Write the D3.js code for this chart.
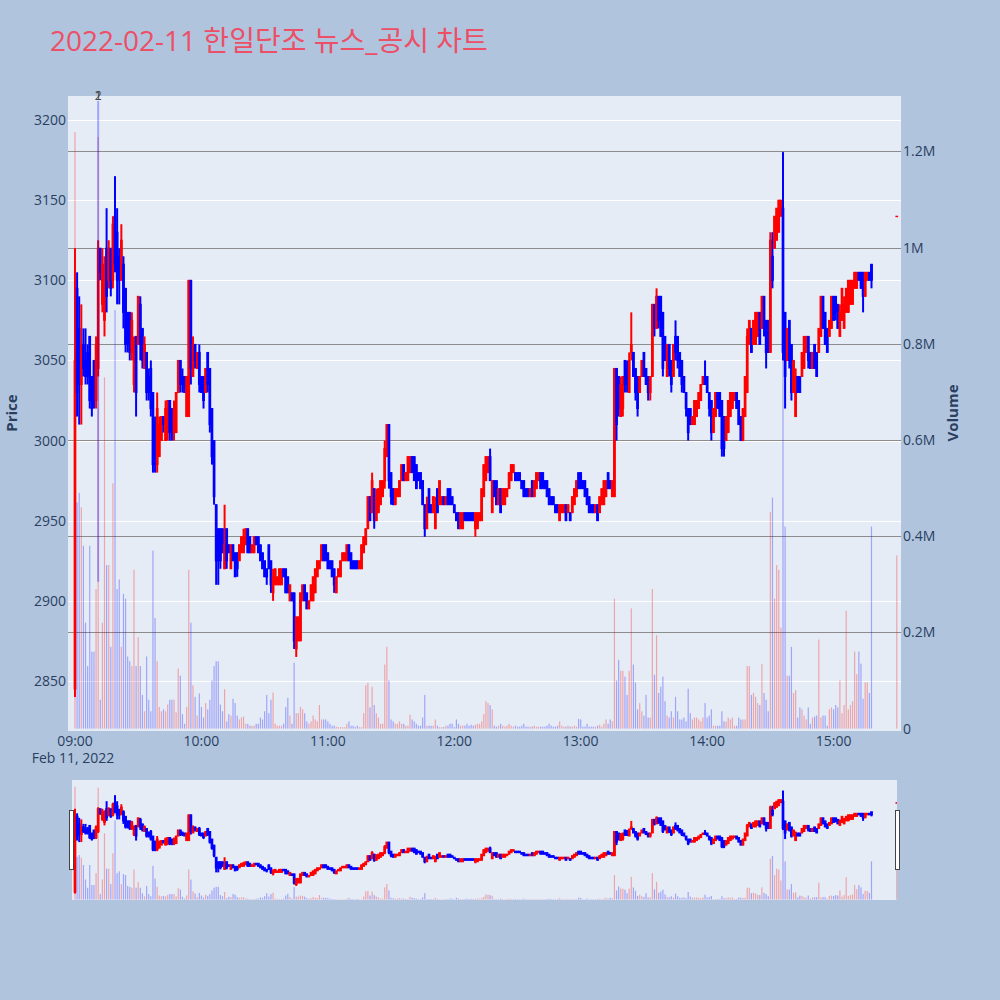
<!DOCTYPE html>
<html>
<head>
<meta charset="utf-8">
<script src="https://cdn.jsdelivr.net/npm/d3@7"></script>
<style>
  body { margin: 0; background: #b0c4de; }
  svg { display: block; }
  text { font-family: "Open Sans", "Noto Sans CJK KR", sans-serif; }
</style>
</head>
<body>
<svg id="chart" width="1000" height="1000"></svg>
<script>
// one candle per minute from 09:00, prices in KRW
const openPrice = [
  2845,3095,3070,3035,3060,3050,3055,3065,3040,3050, 3025,3045,3120,3085,3075,3120,3100,3120,3100,3140,
  3130,3115,3100,3110,3095,3080,3080,3055,3035,3065, 3060,3085,3070,3045,3055,3040,3045,3030,3010,2985,
  2990,3000,3015,3000,3005,
  3025,3020,3005,3005,3030,3050,3040,3040,3015,3015, 3100,3040,3060,3045,3055,3040,3040,3030,3055,3045,
  3020,3000,2960,2945,2945,2945,2920,2945,2935,2920, 2935,2930,2930,2925,2930,2930,2935,2945,2940,
  2930,2930,2940,2940,2935,2930,2925,2920,
  2935,2925,2905,2910,2910,2910,2910,2920,2920,2915, 2900,2905,2905,2870,2875,2875,2900,2910,2905,2895,
  2900,2900,2905,2915,2920,2925,2935,2935,2930,2925, 2925,2920,2905,2915,2915,2925,2925,2925,2935,2930,
  2925,2925,2925,2920,2920,2930,2935,2945,
  2965,2955,2970,2950,2955,2960,2965,2975,2990,3010, 2980,2970,2960,2965,2965,2975,2985,2975,2975,2980,
  2990,2990,2985,2980,2980,2975,2960,2945,2970,2960, 2955,2945,2970,2960,2960,2965,2960,2970,2970,2965,
  2960,2955,2955,2945,2945,2955,2955,
  2955,2955,2955,2945,2945,2950,2950,2965,2975,2980, 2990,2955,2975,2975,2960,2970,2960,2960,2965,2970,
  2975,2980,2980,2980,2980,2975,2975,2970,2970,2965, 2975,2965,2970,2975,2980,2980,2975,2975,2970,2965,
  2965,2960,2960,2950,2955,2955,2960,
  2955,2955,2955,2960,2965,2980,2980,2975,2975,2970, 2965,2960,2960,2955,2960,2955,2960,2960,2965,2980,
  2975,2965,2965,3045,3040,3015,3020,3050,3045,3030, 3055,3055,3045,3040,3030,3040,3055,3045,3040,3030,
  3040,3085,3070,3090,3090,3080,3065,3040,
  3060,3050,3040,3065,3065,3055,3050,3040,3030,3020, 3020,3010,3010,3015,3020,3025,3035,3040,3040,3030,
  3025,3005,3015,3030,3030,3025,3015,3000,3005,3015, 3020,3025,3030,3025,3015,3000,3015,3030,3060,3070,
  3060,3060,3065,3080,3070,3090,3075,
  3075,3055,3115,3120,3125,3130,3140,3145,3080,3050, 3075,3060,3030,3015,3040,3040,3040,3045,3055,3065,
  3055,3045,3060,3055,3055,3065,3090,3080,3070,3065, 3070,3090,3090,3085,3065,3075,3070,3080,3080,3085,
  3085,3095,3095,3105,3105,3105,3090,3100,3105,3110
];
const highPrice = [
  3120,3105,3090,3085,3070,3070,3060,3065,3040,3050, 3065,3125,3120,3120,3115,3145,3125,3120,3140,3165,
  3145,3120,3135,3115,3095,3080,3080,3080,3065,3065, 3090,3090,3070,3065,3055,3045,3050,3030,3015,3030,
  3015,3015,3015,3025,3025,
  3025,3020,3025,3030,3050,3050,3045,3040,3040,3100, 3100,3065,3060,3055,3060,3040,3040,3045,3055,3045,
  3020,3000,2960,2945,2945,2945,2960,2945,2935,2935, 2935,2930,2930,2935,2940,2945,2945,2945,2940,
  2935,2940,2940,2940,2935,2930,2925,2920,
  2935,2925,2920,2920,2915,2920,2920,2920,2920,2915, 2910,2905,2905,2890,2890,2905,2910,2910,2905,2900,
  2910,2915,2920,2925,2925,2935,2935,2935,2930,2925, 2925,2920,2915,2920,2925,2930,2930,2935,2935,2930,
  2925,2925,2925,2925,2935,2940,2945,2965,
  2965,2980,2970,2970,2970,2975,2975,3000,3010,3010, 2980,2970,2970,2970,2975,2985,2985,2980,2990,2990,
  2990,2990,2985,2980,2980,2975,2960,2965,2970,2960, 2965,2965,2970,2975,2965,2965,2965,2970,2970,2965,
  2960,2955,2955,2955,2955,2955,2955,
  2955,2955,2955,2955,2955,2955,2970,2985,2990,2990, 2995,2975,2975,2975,2970,2970,2970,2970,2970,2980,
  2985,2985,2980,2980,2980,2975,2975,2970,2970,2970, 2975,2975,2980,2980,2980,2980,2975,2975,2970,2965,
  2965,2960,2960,2960,2960,2960,2960,
  2960,2955,2965,2970,2975,2980,2980,2975,2975,2970, 2965,2960,2960,2960,2960,2965,2970,2975,2975,2980,
  2975,2975,3045,3045,3040,3040,3040,3050,3050,3055, 3080,3055,3045,3040,3040,3050,3055,3045,3040,3040,
  3085,3085,3095,3090,3090,3080,3065,3060,
  3060,3050,3060,3075,3065,3055,3050,3040,3030,3020, 3020,3015,3025,3025,3030,3035,3040,3050,3040,3030,
  3025,3020,3030,3030,3030,3025,3015,3015,3025,3030, 3030,3030,3030,3025,3015,3020,3040,3070,3075,3070,
  3075,3080,3080,3080,3090,3090,3075,
  3075,3130,3130,3140,3145,3150,3150,3180,3080,3070, 3075,3060,3050,3045,3040,3040,3055,3065,3065,3065,
  3055,3055,3060,3055,3070,3090,3090,3080,3070,3075, 3090,3090,3090,3085,3085,3095,3090,3095,3100,3100,
  3100,3105,3105,3105,3105,3105,3105,3105,3105,3110
];
const lowPrice = [
  2840,3015,3010,3010,3040,3035,3035,3020,3015,3020, 3020,3040,3100,3080,3065,3080,3095,3090,3095,3105,
  3085,3085,3100,3070,3055,3055,3050,3050,3030,3015, 3060,3050,3045,3045,3025,3025,3015,2980,2980,2980,
  2990,3000,3005,3000,3000,
  3000,3000,3000,3005,3030,3030,3030,3030,3015,3015, 3035,3040,3045,3045,3030,3030,3020,3030,3030,3005,
  2985,2960,2910,2910,2920,2930,2920,2920,2930,2920, 2925,2915,2915,2925,2930,2930,2935,2930,2930,
  2930,2930,2935,2930,2925,2920,2915,2910,
  2920,2905,2900,2910,2910,2910,2910,2915,2905,2905, 2900,2900,2870,2865,2875,2875,2900,2900,2895,2895,
  2900,2900,2905,2915,2920,2925,2925,2925,2920,2920, 2915,2905,2905,2915,2915,2925,2925,2925,2925,2920,
  2920,2920,2920,2920,2920,2930,2935,2945,
  2950,2955,2945,2950,2955,2960,2965,2970,2990,2970, 2960,2960,2960,2965,2965,2975,2975,2975,2975,2980,
  2980,2975,2970,2975,2970,2960,2940,2945,2955,2955, 2955,2945,2955,2960,2960,2960,2960,2960,2960,2960,
  2955,2950,2945,2945,2945,2950,2950,
  2950,2950,2950,2940,2945,2950,2950,2965,2975,2980, 2975,2955,2965,2960,2960,2955,2960,2960,2965,2970,
  2975,2980,2975,2975,2975,2970,2965,2965,2965,2965, 2965,2965,2970,2975,2970,2970,2970,2965,2960,2960,
  2960,2955,2955,2950,2955,2955,2950,
  2955,2950,2955,2960,2965,2970,2970,2970,2965,2960, 2955,2955,2955,2955,2950,2955,2960,2960,2965,2970,
  2970,2965,2965,3000,3015,3015,3015,3030,3030,3030, 3050,3040,3025,3015,3030,3040,3040,3035,3025,3025,
  3040,3065,3070,3070,3065,3040,3050,3040,
  3040,3030,3040,3050,3045,3040,3030,3030,3015,3000, 3010,3010,3010,3015,3020,3025,3035,3035,3030,3015,
  3000,3005,3015,3020,3015,2990,2990,3000,3005,3015, 3020,3025,3020,3010,3000,3000,3015,3030,3060,3055,
  3060,3060,3065,3060,3070,3065,3045,
  3055,3055,3095,3120,3125,3130,3140,3050,3020,3050, 3045,3025,3030,3015,3030,3030,3040,3045,3055,3045,
  3045,3045,3045,3040,3055,3065,3070,3060,3055,3065, 3070,3075,3075,3070,3065,3075,3070,3080,3080,3085,
  3085,3095,3095,3100,3095,3080,3090,3100,3100,3095
];
const closePrice = [
  3050,3030,3035,3060,3045,3040,3040,3025,3020,3025, 3060,3120,3105,3110,3110,3090,3120,3095,3135,3110,
  3100,3100,3125,3080,3060,3060,3055,3075,3060,3030, 3090,3060,3050,3060,3030,3030,3020,2985,2985,3020,
  3010,3015,3010,3020,3025,
  3005,3005,3020,3030,3050,3035,3035,3030,3040,3100, 3045,3060,3050,3055,3035,3030,3025,3045,3035,3010,
  2990,2965,2925,2925,2925,2930,2935,2925,2930,2935, 2925,2915,2920,2935,2940,2940,2945,2930,2930,
  2935,2940,2935,2930,2925,2920,2915,2915,
  2920,2910,2915,2920,2915,2920,2920,2915,2905,2905, 2910,2900,2875,2890,2890,2905,2910,2900,2895,2900,
  2910,2915,2920,2925,2925,2935,2925,2925,2920,2920, 2915,2910,2915,2920,2925,2930,2930,2935,2925,2920,
  2920,2920,2920,2925,2935,2940,2945,2965,
  2950,2975,2950,2965,2970,2975,2975,2995,3010,2975, 2965,2960,2970,2970,2975,2985,2975,2980,2990,2990,
  2980,2975,2970,2975,2970,2960,2945,2960,2955,2955, 2965,2960,2955,2975,2965,2960,2965,2960,2960,2960,
  2955,2950,2945,2955,2955,2950,2950,
  2950,2950,2950,2955,2955,2955,2970,2985,2990,2990, 2975,2975,2965,2960,2970,2955,2970,2970,2970,2980,
  2985,2985,2975,2975,2975,2970,2965,2965,2965,2970, 2965,2975,2980,2980,2970,2970,2970,2965,2960,2960,
  2960,2955,2955,2960,2960,2960,2950,
  2960,2950,2965,2970,2975,2970,2970,2970,2965,2960, 2955,2955,2955,2960,2950,2965,2970,2975,2975,2970,
  2970,2975,3045,3010,3020,3035,3040,3035,3035,3050, 3060,3040,3030,3020,3040,3050,3040,3035,3030,3040,
  3085,3070,3090,3075,3065,3045,3050,3060,
  3045,3035,3060,3055,3050,3040,3035,3030,3020,3005, 3010,3015,3025,3025,3030,3035,3040,3035,3030,3020,
  3005,3020,3030,3020,3015,2995,2995,3015,3025,3030, 3030,3030,3020,3010,3000,3020,3040,3065,3075,3055,
  3075,3080,3080,3060,3090,3070,3055,
  3055,3125,3100,3140,3145,3150,3150,3055,3040,3070, 3050,3030,3050,3040,3030,3030,3055,3065,3065,3050,
  3045,3055,3045,3040,3070,3090,3070,3060,3055,3075, 3090,3075,3080,3070,3080,3095,3085,3095,3100,3100,
  3100,3105,3105,3100,3095,3090,3105,3105,3100,3100
];
// traded volume per minute, thousands of shares
const volumeK = [
  1240,470,490,460,380,220,130,380,160,160, 290,1230,60,220,730,340,340,170,510,870,
  290,310,170,280,270,150,140,130,330,130, 190,130,70,36,150,60,36,370,230,140,
  45,36,40,36,50,
  60,60,60,34,125,110,30,10,45,330, 220,90,66,27,73,45,23,53,40,60,
  100,130,140,140,50,36,82,15,30,27, 62,53,27,19,23,25,10,10,6,
  6,6,10,10,23,19,36,70,
  32,60,75,10,6,6,6,10,45,64, 27,10,137,32,32,45,40,32,15,10,
  15,27,19,15,49,19,19,19,15,10, 6,6,4,3,3,3,3,10,15,6,
  6,3,6,3,3,32,90,95,
  44,87,49,32,23,10,10,133,170,100, 19,15,10,10,15,10,10,6,6,29,
  19,15,10,6,6,23,70,6,6,6, 6,19,6,3,3,3,6,6,10,10,
  3,19,10,6,6,6,10,
  6,8,6,8,10,10,15,30,57,53, 49,40,6,4,6,10,6,4,6,10,
  6,4,6,4,4,6,10,4,4,4, 4,6,4,4,4,4,4,6,10,6,
  4,4,6,15,6,4,4,
  6,4,4,6,4,20,19,4,4,10, 4,4,4,4,6,8,4,10,19,10,
  19,15,270,100,143,120,120,108,70,120, 250,133,96,40,53,36,27,70,23,23,
  290,112,194,74,87,108,57,27,
  23,36,23,66,36,19,19,23,15,83, 32,19,23,23,19,15,23,53,23,27,
  40,6,6,6,6,36,15,15,23,19, 23,6,6,23,19,19,19,130,130,70,
  74,66,53,49,134,74,60,
  36,450,480,270,340,330,210,1200,420,110, 110,170,74,80,23,44,40,27,19,44,
  10,23,25,27,185,23,27,27,6,40, 44,40,49,44,100,32,49,245,40,49,
  57,160,113,160,135,62,96,96,74,420
];
// closing single-price auction at 15:30: open, high, low, close, volume (K)
const auctionCandle = [3140, 3140, 3140, 3140, 360];

const priceTicks = [2850, 2900, 2950, 3000, 3050, 3100, 3150, 3200];
const volumeTicks = [0, 200, 400, 600, 800, 1000, 1200];
const hourTicks = ["09:00", "10:00", "11:00", "12:00", "13:00", "14:00", "15:00"];
const newsTime = "09:11";
const newsLabels = ["1", "2"];

const titleText = "2022-02-11 한일단조 뉴스_공시 차트";
const upColor = "#ff0000";
const downColor = "#0000ff";

const parseTime = d3.timeParse("%Y-%m-%d %H:%M");
const sessionOpen = parseTime("2022-02-11 09:00");
const atClock = hm => parseTime("2022-02-11 " + hm);

const candles = openPrice.map((o, i) => ({
  t: d3.timeMinute.offset(sessionOpen, i),
  o, h: highPrice[i], l: lowPrice[i], c: closePrice[i], v: volumeK[i]
}));
candles.push({
  t: atClock("15:30"),
  o: auctionCandle[0], h: auctionCandle[1], l: auctionCandle[2], c: auctionCandle[3], v: auctionCandle[4]
});

const svg = d3.select("#chart");
const plot = { left: 68, right: 901, top: 96, bottom: 731 };
const slider = { left: 72, right: 897, top: 780, bottom: 900 };

const x = d3.scaleTime()
  .domain([d3.timeSecond.offset(sessionOpen, -199), d3.timeMinute.offset(sessionOpen, 392)])
  .range([plot.left, plot.right]);
const y = d3.scaleLinear().domain([2818.8, 3215]).range([plot.bottom, plot.top]);
const yVol = d3.scaleLinear().domain([-5, 1315]).range([plot.bottom, plot.top]);

// title
svg.append("text")
  .attr("x", 50).attr("y", 51)
  .attr("font-size", 28)
  .attr("fill", "#ec4f66")
  .text(titleText);

// plot background and grids
svg.append("rect")
  .attr("x", plot.left).attr("y", plot.top)
  .attr("width", plot.right - plot.left).attr("height", plot.bottom - plot.top)
  .attr("fill", "#e5ecf6");

svg.append("g").selectAll("line")
  .data(priceTicks).join("line")
  .attr("x1", plot.left).attr("x2", plot.right)
  .attr("y1", d => Math.round(y(d)) + 0.5).attr("y2", d => Math.round(y(d)) + 0.5)
  .attr("stroke", "#ffffff").attr("stroke-width", 1);

svg.append("g").selectAll("line")
  .data(volumeTicks.filter(d => d > 0)).join("line")
  .attr("x1", plot.left).attr("x2", plot.right)
  .attr("y1", d => Math.round(yVol(d)) + 0.5).attr("y2", d => Math.round(yVol(d)) + 0.5)
  .attr("stroke", "#8c8c8c").attr("stroke-width", 1);

// draws candles + volume for a given set of scales (main plot and range slider)
function drawTraces(g, xs, ys, yv, bodyWidth) {
  const colorOf = d => (d.c >= d.o ? upColor : downColor);

  const candle = g.append("g").selectAll("g")
    .data(candles).join("g");
  candle.append("line")
    .attr("x1", d => xs(d.t)).attr("x2", d => xs(d.t))
    .attr("y1", d => ys(d.h)).attr("y2", d => ys(d.l))
    .attr("stroke", colorOf).attr("stroke-width", 2);
  candle.append("rect")
    .attr("x", d => xs(d.t) - bodyWidth / 2)
    .attr("y", d => ys(Math.max(d.o, d.c)))
    .attr("width", bodyWidth)
    .attr("height", d => Math.max(0.5, Math.abs(ys(d.o) - ys(d.c))))
    .attr("fill", colorOf).attr("stroke", colorOf).attr("stroke-width", 1);

  g.append("g").selectAll("rect")
    .data(candles).join("rect")
    .attr("x", d => xs(d.t) - 0.6)
    .attr("y", d => yv(d.v))
    .attr("width", 1.2)
    .attr("height", d => Math.max(0, yv(0) - yv(d.v)))
    .attr("fill", colorOf)
    .attr("fill-opacity", 0.3);
}

svg.append("clipPath").attr("id", "plotClip").append("rect")
  .attr("x", plot.left).attr("y", plot.top)
  .attr("width", plot.right - plot.left).attr("height", plot.bottom - plot.top);
drawTraces(svg.append("g").attr("clip-path", "url(#plotClip)"), x, y, yVol, 1.7);

// news marker at 09:11
const newsX = x(atClock(newsTime));
svg.append("line")
  .attr("x1", newsX).attr("x2", newsX)
  .attr("y1", plot.top + 5).attr("y2", y(2912))
  .attr("stroke", downColor).attr("stroke-opacity", 0.3).attr("stroke-width", 2);
svg.append("g").selectAll("text")
  .data(newsLabels).join("text")
  .attr("x", newsX).attr("y", plot.top + 4)
  .attr("text-anchor", "middle")
  .attr("font-size", 12)
  .attr("fill", "#444")
  .text(d => d);

// axes labels
const tickColor = "#2a3f5f";
svg.append("g").selectAll("text")
  .data(priceTicks).join("text")
  .attr("x", 66).attr("y", d => y(d) + 5)
  .attr("text-anchor", "end").attr("font-size", 14).attr("fill", tickColor)
  .text(d => d);

svg.append("g").selectAll("text")
  .data(volumeTicks).join("text")
  .attr("x", 903).attr("y", d => yVol(d) + 5)
  .attr("font-size", 14).attr("fill", tickColor)
  .text(d => (d === 0 ? "0" : d / 1000 + "M"));

svg.append("g").selectAll("text")
  .data(hourTicks).join("text")
  .attr("x", d => x(atClock(d))).attr("y", 746)
  .attr("text-anchor", "middle").attr("font-size", 14).attr("fill", tickColor)
  .text(d => d);
svg.append("text")
  .attr("x", x(sessionOpen) - 2).attr("y", 763)
  .attr("text-anchor", "middle").attr("font-size", 14).attr("fill", tickColor)
  .text("Feb 11, 2022");

svg.append("text")
  .attr("transform", "translate(16.5,413) rotate(-90)")
  .attr("text-anchor", "middle").attr("font-size", 15).attr("font-weight", "bold")
  .attr("fill", tickColor).text("Price");
svg.append("text")
  .attr("transform", "translate(958,413) rotate(-90)")
  .attr("text-anchor", "middle").attr("font-size", 15).attr("font-weight", "bold")
  .attr("fill", tickColor).text("Volume");

// range slider
svg.append("rect")
  .attr("x", slider.left).attr("y", slider.top)
  .attr("width", slider.right - slider.left).attr("height", slider.bottom - slider.top)
  .attr("fill", "#e5ecf6");
const ySlide = d3.scaleLinear().domain(y.domain()).range([slider.bottom, slider.top]);
const vSlide = d3.scaleLinear().domain(yVol.domain()).range([slider.bottom, slider.top]);
svg.append("clipPath").attr("id", "sliderClip").append("rect")
  .attr("x", slider.left).attr("y", slider.top)
  .attr("width", slider.right - slider.left).attr("height", slider.bottom - slider.top);
drawTraces(svg.append("g").attr("clip-path", "url(#sliderClip)"), x, ySlide, vSlide, 1.7);

svg.append("g").selectAll("rect")
  .data([slider.left - 2.5, slider.right - 1.5]).join("rect")
  .attr("x", d => d).attr("y", 810.5)
  .attr("width", 4).attr("height", 59)
  .attr("fill", "#ffffff").attr("stroke", "#444").attr("stroke-width", 1);
</script>
</body>
</html>
